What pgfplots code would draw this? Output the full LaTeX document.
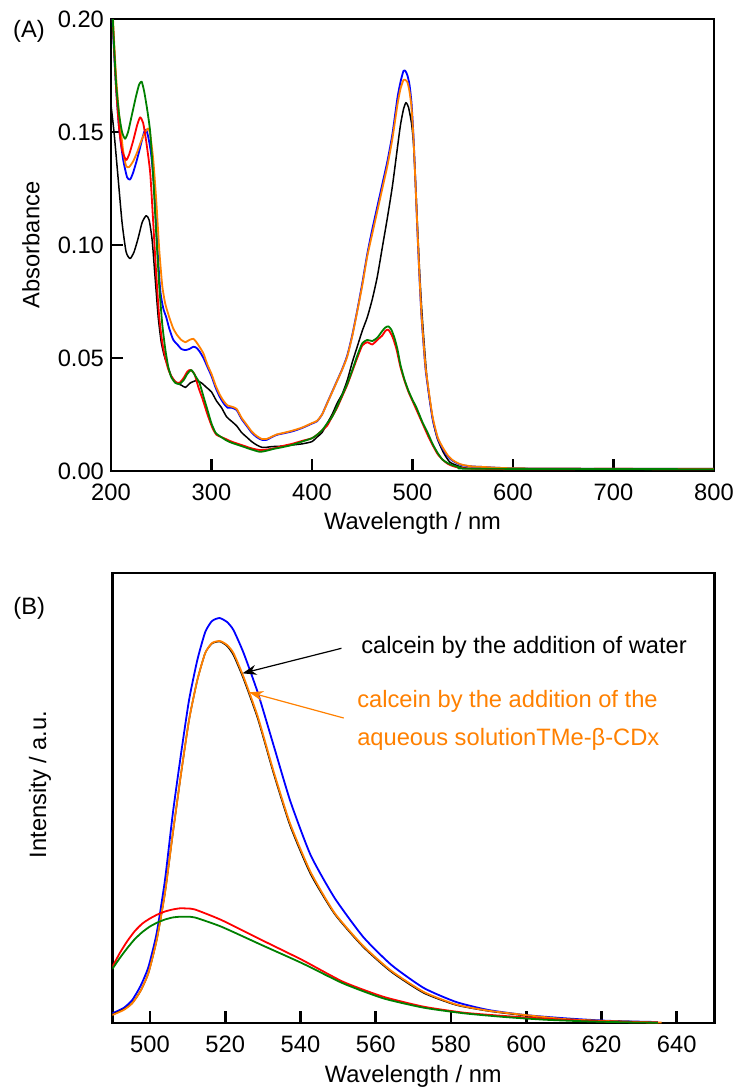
\documentclass[border=0pt]{standalone}
\usepackage{fontspec}
\setmainfont{Liberation Sans}
\usepackage{pgfplots}
\pgfplotsset{compat=1.18}
\usetikzlibrary{arrows.meta}
\definecolor{cblue}{RGB}{0,0,255}
\definecolor{cred}{RGB}{255,0,0}
\definecolor{cgreen}{RGB}{0,128,0}
\definecolor{corange}{RGB}{255,128,0}
\newcommand{\lbl}{\fontsize{11.85}{14.2}\selectfont}
\pgfplotsset{
  myaxis/.style={
    scale only axis,
    clip mode=individual,
    axis line style={line width=1.35pt},
    tick pos=left,
    tick align=inside,
    major tick length=6pt,
    every tick/.style={black, line width=1.35pt},
    tick label style={font=\lbl},
    /pgf/number format/assume math mode=true,
    xticklabel style={yshift=-3pt},
    every axis plot/.append style={line width=0.9pt, line join=round, smooth, tension=0.35},
  }
}
\begin{document}
\begin{tikzpicture}
\useasboundingbox (0,0) rectangle (368.5pt,-544.5pt);
% ---------------- (A) ----------------
\begin{axis}[myaxis,
  at={(55.5pt,-235.5pt)}, anchor=south west,
  width=301.5pt, height=226pt,
  xmin=200, xmax=800, ymin=0, ymax=0.2,
  xtick={200,300,...,800},
  ytick={0,0.05,0.10,0.15,0.20},
  yticklabel style={/pgf/number format/.cd, fixed, fixed zerofill, precision=2},
  xlabel={Wavelength / nm},
  ylabel={Absorbance},
  every axis x label/.style={at={(axis description cs:0.5,-0.115)}, anchor=center, font=\lbl},
  every axis y label/.style={at={(axis description cs:-0.133,0.5)}, anchor=center, rotate=90, font=\lbl},
]
\addplot[black, line width=0.75pt] coordinates {
(200,0.162)(203,0.150)(207,0.130)(211,0.110)(215,0.097)(219,0.094)(223,0.097)(227,0.103)(231,0.110)(235,0.113)(238,0.111)(241,0.102)(244,0.085)(247,0.068)(250,0.057)(253,0.051)(256,0.047)(260,0.042)(265,0.039)(270,0.038)(274,0.037)(279,0.039)(285,0.040)(290,0.039)(295,0.037)(300,0.035)(305,0.031)(310,0.028)(315,0.024)(320,0.022)(325,0.020)(330,0.017)(335,0.015)(340,0.013)(345,0.0115)(350,0.0105)(355,0.0105)(360,0.0108)(370,0.011)(380,0.0115)(390,0.012)(400,0.013)(405,0.015)(410,0.017)(415,0.021)(420,0.025)(425,0.030)(430,0.034)(435,0.040)(440,0.048)(445,0.055)(450,0.062)(455,0.068)(460,0.076)(465,0.086)(470,0.099)(475,0.112)(480,0.126)(485,0.143)(488,0.153)(491,0.160)(493.5,0.163)(496,0.161)(499,0.154)(501,0.145)(503,0.128)(505,0.108)(507,0.089)(509,0.073)(511,0.060)(514,0.043)(517,0.032)(521,0.021)(525,0.014)(531,0.008)(537,0.004)(544,0.0025)(555,0.0012)(600,0.001)(700,0.001)(800,0.001)
};
\addplot[cblue] coordinates {
(200,0.225)(202,0.195)(205,0.170)(208,0.152)(212,0.138)(216,0.130)(219,0.129)(222,0.132)(226,0.138)(230,0.145)(233,0.150)(235,0.151)(237,0.148)(240,0.140)(243,0.125)(246,0.100)(249,0.080)(252,0.072)(255,0.068)(258,0.063)(262,0.058)(266,0.056)(270,0.054)(274,0.0535)(278,0.054)(282,0.055)(285,0.0545)(288,0.053)(292,0.050)(296,0.046)(300,0.042)(304,0.037)(308,0.033)(312,0.030)(316,0.028)(320,0.028)(325,0.027)(330,0.023)(335,0.020)(340,0.017)(345,0.015)(350,0.0138)(355,0.0138)(360,0.015)(365,0.016)(370,0.0165)(380,0.0175)(390,0.019)(400,0.021)(405,0.022)(410,0.025)(415,0.030)(420,0.035)(425,0.040)(430,0.045)(435,0.051)(440,0.060)(445,0.071)(450,0.083)(455,0.096)(460,0.107)(465,0.117)(470,0.127)(475,0.137)(480,0.149)(485,0.165)(488,0.172)(491,0.177)(493,0.177)(495,0.175)(497,0.171)(499,0.163)(501,0.148)(503,0.127)(505,0.105)(507,0.085)(509,0.068)(511,0.056)(513,0.045)(516,0.035)(520,0.023)(525,0.0145)(530,0.010)(535,0.0065)(540,0.0045)(545,0.0033)(550,0.0025)(560,0.002)(570,0.0018)(600,0.0012)(700,0.001)(800,0.001)
};
\addplot[corange] coordinates {
(200,0.225)(202,0.200)(205,0.175)(208,0.158)(212,0.142)(215,0.135)(218,0.1345)(222,0.137)(226,0.141)(230,0.146)(234,0.150)(237,0.1516)(239,0.149)(242,0.138)(245,0.120)(248,0.098)(251,0.082)(254,0.074)(258,0.068)(262,0.063)(266,0.060)(270,0.058)(274,0.057)(278,0.058)(282,0.0585)(285,0.057)(288,0.055)(292,0.052)(296,0.047)(300,0.043)(304,0.038)(308,0.034)(312,0.031)(316,0.029)(320,0.0285)(325,0.0275)(330,0.0235)(335,0.0205)(340,0.0175)(345,0.0155)(350,0.0142)(355,0.0142)(360,0.0152)(365,0.0162)(370,0.0167)(380,0.0178)(390,0.0192)(400,0.0212)(405,0.0222)(410,0.025)(415,0.0298)(420,0.0348)(425,0.0398)(430,0.0448)(435,0.0505)(440,0.0595)(445,0.0705)(450,0.082)(455,0.095)(460,0.105)(465,0.115)(470,0.125)(475,0.135)(480,0.147)(485,0.162)(488,0.169)(491,0.173)(493,0.173)(495,0.172)(497,0.168)(499,0.161)(501,0.147)(503,0.127)(505,0.106)(507,0.086)(509,0.069)(511,0.057)(513,0.046)(516,0.036)(520,0.024)(525,0.015)(530,0.0105)(535,0.007)(540,0.0048)(545,0.0035)(550,0.0027)(560,0.002)(570,0.0018)(600,0.0012)(700,0.001)(800,0.001)
};
\addplot[cred] coordinates {
(200,0.225)(202,0.197)(205,0.170)(208,0.152)(211,0.142)(215,0.1376)(218,0.140)(222,0.146)(226,0.153)(229,0.1565)(232,0.154)(235,0.146)(239,0.132)(242,0.110)(245,0.087)(248,0.068)(251,0.057)(254,0.050)(257,0.045)(260,0.042)(264,0.0395)(268,0.039)(272,0.041)(276,0.044)(279,0.0447)(283,0.043)(287,0.037)(291,0.032)(296,0.025)(301,0.019)(305,0.016)(310,0.015)(315,0.014)(320,0.013)(330,0.0115)(340,0.010)(348,0.0093)(355,0.0095)(362,0.010)(370,0.011)(380,0.012)(390,0.0133)(400,0.0145)(405,0.016)(410,0.018)(415,0.020)(420,0.024)(425,0.028)(430,0.033)(435,0.038)(440,0.044)(445,0.050)(450,0.0555)(455,0.057)(460,0.056)(465,0.058)(470,0.060)(473,0.062)(476,0.0625)(480,0.0595)(484,0.054)(488,0.046)(492,0.040)(496,0.035)(500,0.031)(504,0.027)(510,0.021)(515,0.016)(520,0.0115)(525,0.0075)(530,0.005)(535,0.0032)(540,0.0022)(545,0.0016)(555,0.0011)(600,0.0008)(650,0.0008)(700,0.001)(750,0.0008)(800,0.0008)
};
\addplot[cgreen] coordinates {
(200,0.225)(202,0.198)(205,0.172)(208,0.158)(211,0.150)(214,0.147)(217,0.150)(221,0.158)(225,0.166)(228,0.171)(230.5,0.1723)(233,0.168)(236,0.160)(239,0.150)(242,0.130)(245,0.105)(248,0.082)(251,0.065)(254,0.054)(257,0.046)(260,0.0415)(264,0.039)(268,0.0385)(272,0.040)(276,0.043)(280,0.0447)(284,0.042)(288,0.039)(292,0.033)(296,0.027)(300,0.021)(304,0.017)(308,0.0155)(315,0.0135)(320,0.0125)(330,0.011)(340,0.0095)(348,0.0085)(355,0.009)(362,0.0098)(370,0.0105)(380,0.0115)(390,0.013)(400,0.0145)(405,0.016)(410,0.018)(415,0.021)(420,0.024)(425,0.0285)(430,0.0335)(435,0.0385)(440,0.0445)(445,0.051)(450,0.0565)(455,0.058)(460,0.0575)(465,0.059)(470,0.062)(473,0.0635)(476,0.064)(479,0.0625)(482,0.059)(485,0.054)(488,0.047)(492,0.0405)(496,0.0355)(500,0.0315)(504,0.028)(510,0.0215)(515,0.017)(520,0.012)(525,0.008)(530,0.005)(535,0.0035)(540,0.0025)(548,0.0015)(560,0.001)(800,0.0008)
};
\node[font=\lbl] at (rel axis cs:-0.136,0.973) {(A)};
\end{axis}
% ---------------- (B) ----------------
\begin{axis}[myaxis,
  at={(56.15pt,-511.5pt)}, anchor=south west,
  width=301pt, height=225pt,
  xmin=490, xmax=650, ymin=0, ymax=450,
  xtick={500,520,...,640},
  ytick=\empty,
  xlabel={Wavelength / nm},
  ylabel={Intensity / a.u.},
  every axis x label/.style={at={(axis description cs:0.5,-0.119)}, anchor=center, font=\lbl},
  every axis y label/.style={at={(axis description cs:-0.12,0.53)}, anchor=center, rotate=90, font=\lbl},
]
\addplot[cblue] coordinates {
(490,9.7)(493,15)(495.3,23)(497.5,37)(499.6,56)(501.8,90)(504,143)(506.1,210)(508.3,270)(510.4,323)(512.6,363)(514.7,391)(516.5,402)(518.5,405)(520.5,401)(522.2,393)(524.9,370)(528.7,330)(533,276)(537.3,222)(542.7,168)(549.1,125)(556.7,86)(564.2,58)(572.8,35)(581.4,21)(590,13)(599.7,8)(610.4,4.7)(621.2,2.3)(630.9,1.3)(635,1)
};
\addplot[black, line width=0.75pt] coordinates {
(490,8.5)(493,13.5)(495.3,20)(497.5,32)(499.6,50)(501.8,83)(504,130)(506.1,190)(508.3,250)(510.4,303)(512.6,343)(514.7,370)(516.5,379.5)(518.6,381.5)(520.5,377)(522.2,368)(524.9,344)(528.7,304)(533,248)(537.3,197)(542.7,149)(549.1,109)(556.7,76)(564.2,51)(572.8,30)(581.4,18)(590,12)(599.7,7.5)(610,4)(621,2)(631,1)
};
\addplot[corange] coordinates {
(490,8)(493,13)(495.3,19.7)(497.5,32)(499.6,50)(501.8,83)(504,130)(506.1,190)(508.3,250)(510.4,303)(512.6,343)(514.7,370)(516.5,380)(518.6,382)(520.5,378)(522.2,370)(524.9,346)(528.7,306)(533,250)(537.3,199)(542.7,151)(549.1,110)(556.7,77)(564.2,52)(572.8,31)(581.4,18.5)(590,12.3)(599.7,8)(610,4)(621,2)(631,1)(636,0.5)
};
\addplot[cred] coordinates {
(490,56)(492,70)(494,82)(496,92)(498,99.5)(500,104.5)(502,108.5)(504,111.5)(506,113.5)(508,114.7)(510,114.5)(512,113.5)(519,103)(529.7,83)(540.5,63)(551.3,41.3)(562,26.3)(572.8,16.3)(583.5,10.3)(594.3,7)(605,4.3)(615.8,2.3)(626.6,1)(635,0.5)
};
\addplot[cgreen] coordinates {
(490,54)(492,65)(494,75)(496,84)(498,91)(500,96.5)(502,100.5)(504,103.5)(506,105.5)(508,106.3)(510,106.2)(512,105.5)(519,96.3)(529.7,78)(540.5,59.7)(551.3,39.7)(562,24.7)(572.8,15.3)(583.5,9.7)(594.3,6)(605,3.3)(615.8,1.7)(626.6,0.7)(635,0.3)
};
\node[font=\lbl] at (rel axis cs:-0.138,0.922) {(B)};
\node[font=\lbl, anchor=west, inner sep=0pt] at (axis cs:556.1,376) {calcein by the addition of water};
\draw[-{Stealth[length=7pt,width=5pt]}, black, line width=0.6pt] (axis cs:550.9,374.7) -- (axis cs:524.6,349.7);
\node[font=\fontsize{11.85}{19}\selectfont, anchor=west, inner sep=0pt, align=left, text=corange] at (axis cs:555,303) {calcein by the addition of the\\aqueous solutionTMe-β-CDx};
\draw[-{Stealth[length=7pt,width=5pt]}, corange, line width=0.6pt] (axis cs:551.5,305) -- (axis cs:526.4,330.7);
\end{axis}
\end{tikzpicture}
\end{document}
